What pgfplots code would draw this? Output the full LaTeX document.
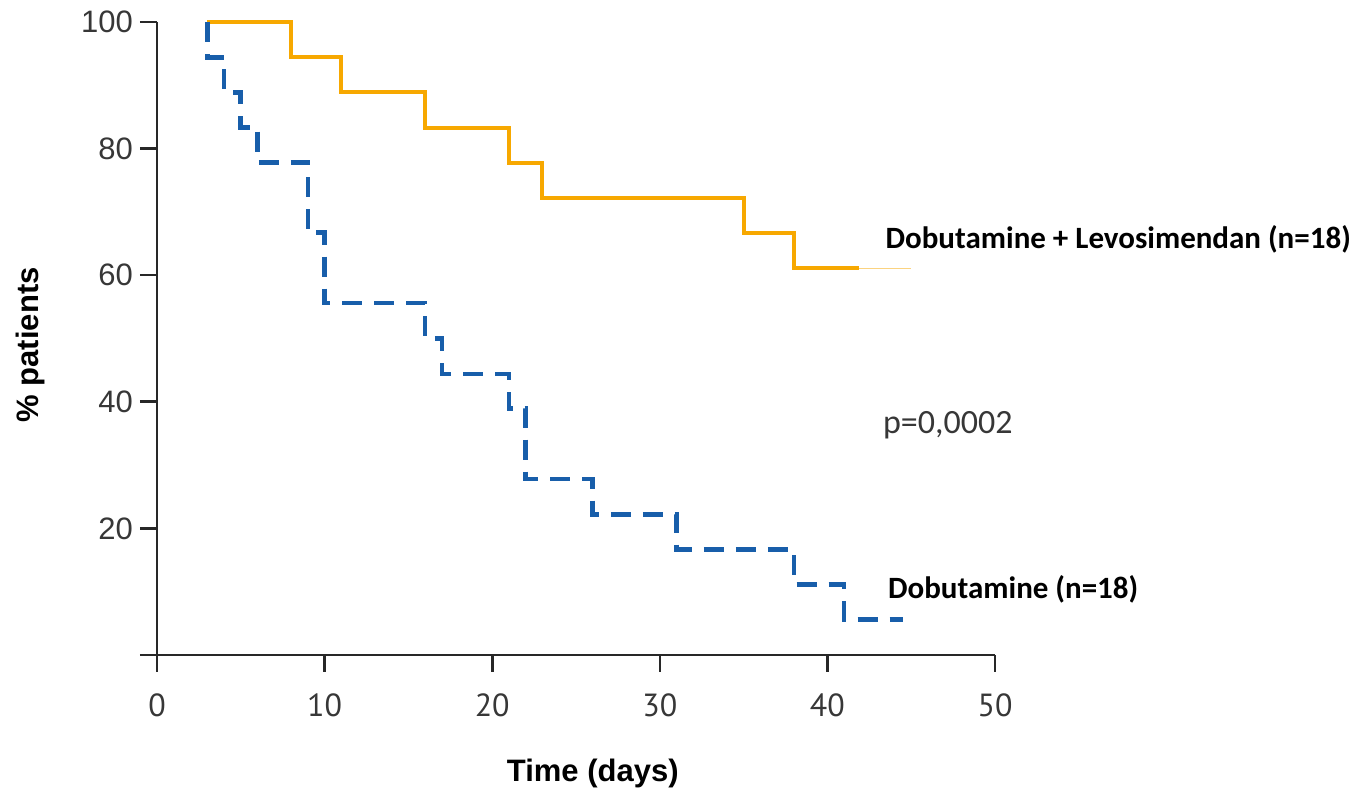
\documentclass[border=0pt]{standalone}
\usepackage{pgfplots}
\pgfplotsset{compat=1.18}
\usepackage{fontspec}
\setmainfont{Liberation Sans}
\newfontfamily\calib{Carlito}
\newfontfamily\ptsans{PT Sans}
\definecolor{kmorange}{RGB}{247,168,0}
\definecolor{kmblue}{RGB}{24,94,170}
\definecolor{axgray}{RGB}{40,40,40}
\definecolor{tickgray}{RGB}{55,55,55}
\begin{document}
\begin{tikzpicture}
\begin{axis}[
  name=ax,
  scale only axis,
  width=419pt, height=316.5pt,
  xmin=0, xmax=50, ymin=0, ymax=100,
  enlargelimits=false,
  clip=false,
  axis lines=left,
  axis line style={-, line width=1.3pt, draw=axgray},
  tick style={line width=1.3pt, draw=axgray},
  tick align=outside,
  major tick length=8.5pt,
  xtick={0,10,20,30,40,50},
  ytick={0,20,40,60,80,100},
  yticklabels={,20,40,60,80,100},
  /pgf/number format/assume math mode=true,
  xticklabel style={font=\fontsize{16}{19}\selectfont\ptsans, text=tickgray, yshift=-7.5pt},
  yticklabel style={font=\fontsize{15.5}{18}\selectfont, text=tickgray},
  xlabel={\textbf{Time (days)}},
  ylabel={\textbf{\% patients}},
  xlabel style={font=\fontsize{15.5}{18}\selectfont, at={(axis description cs:0.52,0)}, anchor=center, yshift=-59pt},
  ylabel style={font=\fontsize{15.5}{18}\selectfont, at={(axis description cs:-0.1504,0.49)}, anchor=center},
]
% Dobutamine + Levosimendan
\addplot[const plot, draw=kmorange, line width=2pt] coordinates {
  (3,100) (8,94.4) (11,88.9) (16,83.3) (21,77.8) (23,72.2) (35,66.7) (38,61.1) (41.9,61.1)
};
\addplot[draw=kmorange!50, line width=0.6pt] coordinates {(41.9,61.1) (45,61.1)};
% Dobutamine
\addplot[const plot, draw=kmblue, line width=2.3pt, dash pattern=on 10pt off 6pt] coordinates {
  (3,100) (3,94.4) (4,88.9) (5,83.3) (6,77.8) (9,66.7) (10,55.6) (16,50) (17,44.4) (21,38.9) (22,27.8) (26,22.2) (31,16.7) (38,11.1) (41,5.6) (44.5,5.6)
};
\node[anchor=west, inner sep=0pt, font=\fontsize{15.5}{18}\selectfont\calib\bfseries] at (axis cs:43.45,65.6) {Dobutamine + Levosimendan (n=18)};
\node[anchor=west, inner sep=0pt, font=\fontsize{17}{20}\selectfont\calib, text=tickgray] at (axis cs:43.3,36.3) {p=0,0002};
\node[anchor=west, inner sep=0pt, font=\fontsize{15.5}{18}\selectfont\calib\bfseries] at (axis cs:43.6,10.3) {Dobutamine (n=18)};
\end{axis}
\pgfresetboundingbox
\path (ax.south west) ++(-78.5pt,-67.5pt) rectangle ++(682.5pt,395pt);
\end{tikzpicture}
\end{document}
